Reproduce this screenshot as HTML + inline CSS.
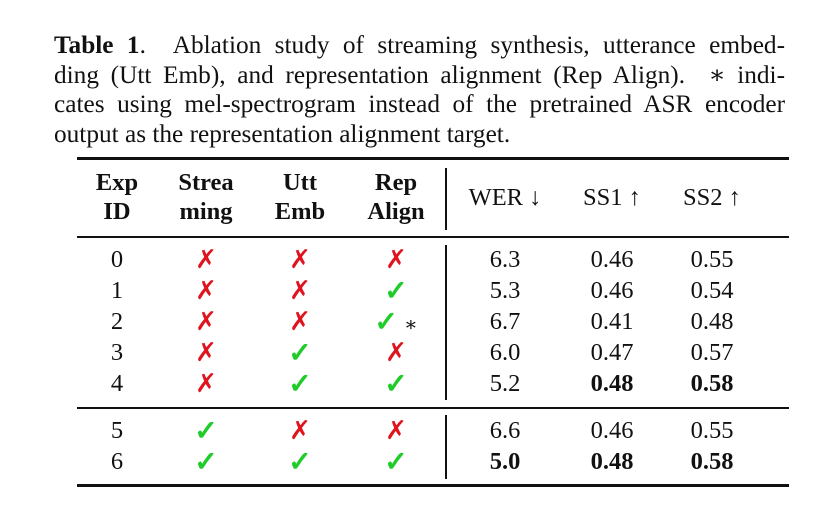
<!DOCTYPE html>
<html><head><meta charset="utf-8"><style>
body{margin:0;background:#fff;width:837px;height:515px;overflow:hidden;position:relative;font-family:"Liberation Serif","DejaVu Serif",serif;color:#111}
.cap{position:absolute;left:54px;width:731px;font-size:25.3px;line-height:29.7px;top:31px}
.ln{text-align:justify;text-align-last:justify;white-space:nowrap}
.ln.last{text-align-last:left}
.t{position:absolute;font-size:24.5px;transform:translate(-50%,-50%);white-space:nowrap;line-height:1}
.b{font-weight:bold}
.rule{position:absolute;left:77px;width:712px;background:#111}
.x{color:#e0141e;font-family:"DejaVu Sans",sans-serif;font-size:26px;font-weight:bold}
.c{color:#1fcc2a;font-family:"DejaVu Sans",sans-serif;font-size:28px;font-weight:bold;-webkit-text-stroke:1px #1fcc2a}
.v{position:absolute;left:445px;width:1.5px;background:#111}
</style></head><body>
<div class="cap">
<div class="ln"><b>Table 1</b>. &nbsp;Ablation study of streaming synthesis, utterance embed-</div>
<div class="ln">ding (Utt Emb), and representation alignment (Rep Align). &nbsp;∗ indi-</div>
<div class="ln">cates using mel-spectrogram instead of the pretrained ASR encoder</div>
<div class="ln last">output as the representation alignment target.</div>
</div>
<div class="rule" style="top:157px;height:3px"></div>
<div class="rule" style="top:236px;height:1.5px"></div>
<div class="rule" style="top:407px;height:1.5px"></div>
<div class="rule" style="top:484px;height:3px"></div>
<div class="v" style="top:168px;height:62px"></div>
<div class="v" style="top:245px;height:155px"></div>
<div class="v" style="top:415px;height:64px"></div>
<div id="tbl"></div>
<script>
const cols=[117,206,300,396,505,612,712];
const headers=[["Exp","ID"],["Strea","ming"],["Utt","Emb"],["Rep","Align"]];
const metricHeaders=["WER ↓","SS1 ↑","SS2 ↑"];
const ids=["0","1","2","3","4","5","6"];
const streaming=[0,0,0,0,0,1,1];
const utt=[0,0,0,1,1,0,1];
const rep=[0,1,2,0,1,0,1];
const wer=["6.3","5.3","6.7","6.0","5.2","6.6","5.0"];
const ss1=["0.46","0.46","0.41","0.47","0.48","0.46","0.48"];
const ss2=["0.55","0.54","0.48","0.57","0.58","0.55","0.58"];
const boldWer=[6],boldSs1=[4,6],boldSs2=[4,6];
const rowY=[260,291,322,353,384,431,462];
const root=document.getElementById('tbl');
function put(x,y,html,cls,name){const d=document.createElement('div');d.className='t '+(cls||'');d.style.left=x+'px';d.style.top=y+'px';d.innerHTML=html;


root.appendChild(d);}
headers.forEach((h,i)=>{put(cols[i],183,h[0],'b','header-'+i+'-line1');put(cols[i],212,h[1],'b','header-'+i+'-line2');});
metricHeaders.forEach((h,i)=>put(cols[4+i],198,h,'','metric-header-'+i));
function mark(v){return v===0?'<span class="x">✗</span>':v===1?'<span class="c">✓</span>':'<span class="c">✓</span> <span style="font-size:20px">∗</span>';}
ids.forEach((id,r)=>{const y=rowY[r];
put(cols[0],y,id,'','exp-id-'+id);
put(cols[1],y,mark(streaming[r]),'','streaming-'+id);
put(cols[2],y,mark(utt[r]),'','utt-emb-'+id);
put(cols[3],y,mark(rep[r]),'','rep-align-'+id);
put(cols[4],y,wer[r],boldWer.includes(r)?'b':'','wer-'+id);
put(cols[5],y,ss1[r],boldSs1.includes(r)?'b':'','ss1-'+id);
put(cols[6],y,ss2[r],boldSs2.includes(r)?'b':'','ss2-'+id);});
</script>
</body></html>
